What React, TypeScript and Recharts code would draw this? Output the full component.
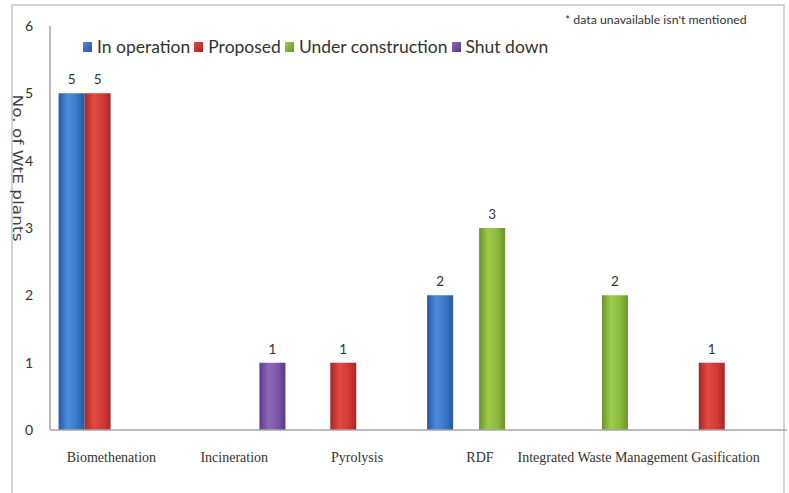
import { BarChart, Bar, XAxis, YAxis, LabelList } from "recharts";

const categories = [
  "Biomethenation",
  "Incineration",
  "Pyrolysis",
  "RDF",
  "Integrated Waste Management",
  "Gasification",
];

const inOperation = [5, null, null, 2, null, null];
const proposed = [5, null, 1, null, null, 1];
const underConstruction = [null, null, null, 3, 2, null];
const shutDown = [null, 1, null, null, null, null];

const yTicks = [0, 1, 2, 3, 4, 5, 6];

const series = [
  { key: "inOperation", name: "In operation", color: "#3b78c8", dark: "#2558a0", light: "#4d8cdc" },
  { key: "proposed", name: "Proposed", color: "#d23b36", dark: "#a52825", light: "#e24a42" },
  { key: "underConstruction", name: "Under construction", color: "#8cba3c", dark: "#6b9529", light: "#9ecb4c" },
  { key: "shutDown", name: "Shut down", color: "#7b56a8", dark: "#5a3b86", light: "#8d68bb" },
];

const data = categories.map((name, i) => ({
  name,
  inOperation: inOperation[i],
  proposed: proposed[i],
  underConstruction: underConstruction[i],
  shutDown: shutDown[i],
}));

const uiFont = "Lato, 'Open Sans', sans-serif";

function LegendRow() {
  return (
    <div
      style={{
        position: "absolute",
        left: 83,
        top: 36,
        display: "flex",
        alignItems: "center",
        fontFamily: uiFont,
        fontSize: 17.5,
        color: "#333",
        whiteSpace: "nowrap",
      }}
    >
      {series.map((s) => (
        <span key={s.key} style={{ display: "flex", alignItems: "center", marginRight: 4 }}>
          <span
            style={{
              display: "inline-block",
              width: 9,
              height: 10,
              marginRight: 5,
              background: `linear-gradient(135deg, ${s.light}, ${s.dark})`,
            }}
          />
          {s.name}
        </span>
      ))}
    </div>
  );
}

function YLabel() {
  return (
    <text
      x={18}
      y={168}
      transform="rotate(90, 18, 168)"
      textAnchor="middle"
      dominantBaseline="central"
      fontFamily="'DejaVu Sans', sans-serif"
      fontSize={13.5}
      fill="#444"
      textLength={147}
      lengthAdjust="spacingAndGlyphs"
    >
      No. of WtE plants
    </text>
  );
}

export default function App() {
  return (
    <div style={{ position: "absolute", left: 0, top: 0, width: 789, height: 493, overflow: "hidden", background: "#fff" }}>
      <div
        style={{
          position: "absolute",
          left: 11,
          top: 4,
          width: 774,
          height: 520,
          border: "2px solid #d4d4d4",
          boxSizing: "border-box",
        }}
      />
      <div
        style={{
          position: "absolute",
          left: 565,
          top: 12,
          fontFamily: uiFont,
          fontSize: 12.3,
          color: "#333",
          whiteSpace: "nowrap",
        }}
      >
        * data unavailable isn't mentioned
      </div>
      <BarChart
        width={789}
        height={493}
        data={data}
        margin={{ top: 26, right: 2, left: 0, bottom: 23 }}
        barCategoryGap="7%"
        barGap={0}
        style={{ position: "absolute", left: 0, top: 0 }}
      >
        <defs>
          {series.map((s) => (
            <linearGradient key={s.key} id={`grad-${s.key}`} x1="0" y1="0" x2="1" y2="0">
              <stop offset="0%" stopColor={s.dark} />
              <stop offset="35%" stopColor={s.light} />
              <stop offset="70%" stopColor={s.color} />
              <stop offset="100%" stopColor={s.dark} />
            </linearGradient>
          ))}
        </defs>
        <XAxis
          dataKey="name"
          height={40}
          tickLine={false}
          tickSize={0}
          tickMargin={22}
          interval={0}
          axisLine={{ stroke: "#a6a6a6", strokeWidth: 1.5 }}
          tick={{ fontFamily: "'Liberation Serif', 'DejaVu Serif', serif", fontSize: 14, fill: "#333" }}
        />
        <YAxis
          width={50}
          domain={[0, 6]}
          ticks={yTicks}
          tickLine={false}
          tickSize={0}
          tickMargin={17}
          axisLine={{ stroke: "#a6a6a6", strokeWidth: 1.5 }}
          tick={{ fontFamily: uiFont, fontSize: 14, fill: "#333" }}
          label={<YLabel />}
        />
        {series.map((s) => (
          <Bar key={s.key} dataKey={s.key} name={s.name} fill={`url(#grad-${s.key})`} isAnimationActive={false}>
            <LabelList
              dataKey={s.key}
              position="top"
              offset={9}
              formatter={(v: any) => (v == null ? "" : v)}
              style={{ fontFamily: uiFont, fontSize: 13.5, fill: "#333" }}
            />
          </Bar>
        ))}
      </BarChart>
      <LegendRow />
    </div>
  );
}
